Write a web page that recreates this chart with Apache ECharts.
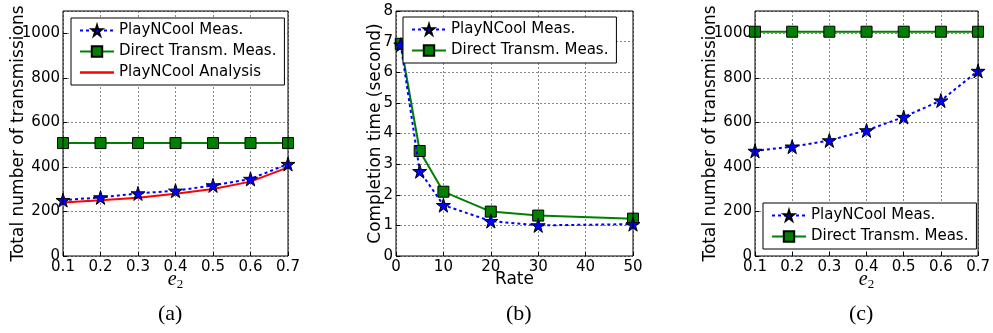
<!DOCTYPE html>
<html>
<head>
<meta charset="utf-8">
<script src="https://cdn.jsdelivr.net/npm/echarts@6/dist/echarts.min.js"></script>
<style>
  html, body { margin: 0; padding: 0; background: #fff; }
  #chart { width: 993px; height: 333px; }
</style>
</head>
<body>
<div id="chart"></div>
<script>
// panel (a) and (c): x = e2
const e2Values = [0.1, 0.2, 0.3, 0.4, 0.5, 0.6, 0.7];
const aPlayMeas = [251, 263, 281, 293, 317, 346, 413];
const aDirectMeas = [507, 507, 507, 507, 507, 507, 507];
const aPlayAnalysis = [240, 250, 262, 279, 301, 334, 398];

// panel (b): x = rate
const rates = [1, 5, 10, 20, 30, 50];
const bPlayMeas = [6.9, 2.77, 1.66, 1.14, 1.0, 1.04];
const bDirectMeas = [6.93, 3.43, 2.1, 1.45, 1.32, 1.22];

const cPlayMeas = [472, 491, 519, 564, 624, 698, 831];
const cDirectMeas = [1007, 1007, 1007, 1007, 1007, 1007, 1007];

const NAME_PLAY = 'PlayNCool Meas.';
const NAME_DIRECT = 'Direct Transm. Meas.';
const NAME_ANALYSIS = 'PlayNCool Analysis';

const STAR = 'path://M50,0 L61,35 L98,35 L68,57 L79,91 L50,70 L21,91 L32,57 L2,35 L39,35 Z';
const FONT = 'DejaVu Sans';

const pair = (xs, ys) => xs.map((x, i) => [x, ys[i]]);

function playSeries(idx, xs, ys) {
  return {
    name: NAME_PLAY, type: 'line', xAxisIndex: idx, yAxisIndex: idx,
    data: pair(xs, ys),
    symbol: STAR, symbolSize: 14,
    itemStyle: { color: '#0000ff', borderColor: '#000', borderWidth: 1 },
    lineStyle: { color: '#0000ff', width: 2, type: [3, 3] },
    z: 4
  };
}
function directSeries(idx, xs, ys) {
  return {
    name: NAME_DIRECT, type: 'line', xAxisIndex: idx, yAxisIndex: idx,
    data: pair(xs, ys),
    symbol: 'rect', symbolSize: 11,
    itemStyle: { color: '#008000', borderColor: '#000', borderWidth: 1 },
    lineStyle: { color: '#008000', width: 2 },
    z: 3
  };
}

const tickLabel = { color: '#000', fontFamily: FONT, fontSize: 15 };
const gridLine = { show: true, lineStyle: { color: '#888', type: [2, 2], width: 1 } };
const nameStyle = { color: '#000', fontFamily: FONT, fontSize: 17 };
const tick = { inside: true, length: 4, lineStyle: { color: '#000' } };

function e2Axis(idx) {
  return {
    gridIndex: idx, type: 'value', min: 0.1, max: 0.7, interval: 0.1,
    axisLine: { show: false }, axisTick: tick,
    axisLabel: Object.assign({ margin: 4, formatter: v => v.toFixed(1) }, tickLabel),
    splitLine: gridLine,
    name: '{e|e}{s|2}', nameLocation: 'middle', nameGap: 12, nameMoveOverlap: false,
    nameTextStyle: {
      rich: {
        e: { fontFamily: 'Liberation Serif', fontStyle: 'italic', fontSize: 20, color: '#000' },
        s: { fontFamily: 'Liberation Serif', fontSize: 13, color: '#000', verticalAlign: 'bottom', padding: [10, 0, 0, 0] }
      }
    }
  };
}
function transAxis(idx) {
  return {
    gridIndex: idx, type: 'value', min: 0, max: 1100, interval: 200,
    axisLine: { show: false }, axisTick: tick,
    axisLabel: Object.assign({ margin: 3, showMaxLabel: false, formatter: v => String(v) }, tickLabel),
    splitLine: gridLine,
    name: 'Total number of transmissions', nameLocation: 'middle', nameGap: 36, nameMoveOverlap: false,
    nameTextStyle: nameStyle
  };
}

function panelLegend(items, box) {
  return Object.assign({
    orient: 'vertical', data: items,
    backgroundColor: '#fff', borderColor: '#000', borderWidth: 1, borderRadius: 0,
    padding: [5, 8, 5, 8], itemGap: 6, itemWidth: 34, itemHeight: 13,
    textStyle: { color: '#000', fontFamily: FONT, fontSize: 15 },
    selectedMode: false, z: 10
  }, box);
}

const chart = echarts.init(document.getElementById('chart'));
chart.setOption({
  animation: false,
  backgroundColor: '#fff',
  grid: [
    { left: 63, top: 11, width: 225, height: 245, show: true, borderColor: '#000', borderWidth: 1, backgroundColor: 'transparent', z: 5 },
    { left: 396, top: 11, width: 237, height: 245, show: true, borderColor: '#000', borderWidth: 1, backgroundColor: 'transparent', z: 5 },
    { left: 755, top: 11, width: 224, height: 245, show: true, borderColor: '#000', borderWidth: 1, backgroundColor: 'transparent', z: 5 }
  ],
  xAxis: [
    e2Axis(0),
    {
      gridIndex: 1, type: 'value', min: 0, max: 50, interval: 10,
      axisLine: { show: false }, axisTick: tick,
      axisLabel: Object.assign({ margin: 4 }, tickLabel),
      splitLine: gridLine,
      name: 'Rate', nameLocation: 'middle', nameGap: 15, nameMoveOverlap: false,
      nameTextStyle: nameStyle
    },
    e2Axis(2)
  ],
  yAxis: [
    transAxis(0),
    {
      gridIndex: 1, type: 'value', min: 0, max: 8, interval: 1,
      axisLine: { show: false }, axisTick: tick,
      axisLabel: Object.assign({ margin: 3 }, tickLabel),
      splitLine: gridLine,
      name: 'Completion time (second)', nameLocation: 'middle', nameGap: 12, nameMoveOverlap: false,
      nameTextStyle: nameStyle
    },
    transAxis(2)
  ],
  legend: [
    panelLegend([
      NAME_PLAY, NAME_DIRECT,
      { name: NAME_ANALYSIS, icon: 'path://M0,0 L30,0 L30,2 L0,2 Z', itemStyle: { color: '#ff0000' } }
    ], { left: 71, top: 18 }),
    panelLegend([NAME_PLAY, NAME_DIRECT], { left: 403, top: 17 }),
    panelLegend([NAME_PLAY, NAME_DIRECT], { left: 763, top: 203 })
  ],
  title: [
    { text: '(a)', left: 153, top: 298, textStyle: { fontFamily: 'Liberation Serif', fontWeight: 'normal', fontSize: 22, color: '#000' } },
    { text: '(b)', left: 501, top: 298, textStyle: { fontFamily: 'Liberation Serif', fontWeight: 'normal', fontSize: 22, color: '#000' } },
    { text: '(c)', left: 844, top: 298, textStyle: { fontFamily: 'Liberation Serif', fontWeight: 'normal', fontSize: 22, color: '#000' } }
  ],
  series: [
    directSeries(0, e2Values, aDirectMeas),
    playSeries(0, e2Values, aPlayMeas),
    {
      name: NAME_ANALYSIS, type: 'line', xAxisIndex: 0, yAxisIndex: 0,
      data: pair(e2Values, aPlayAnalysis), symbol: 'none',
      itemStyle: { color: '#ff0000' },
      lineStyle: { color: '#ff0000', width: 2 }, z: 3
    },
    playSeries(1, rates, bPlayMeas),
    directSeries(1, rates, bDirectMeas),
    playSeries(2, e2Values, cPlayMeas),
    directSeries(2, e2Values, cDirectMeas)
  ]
});
</script>
</body>
</html>
